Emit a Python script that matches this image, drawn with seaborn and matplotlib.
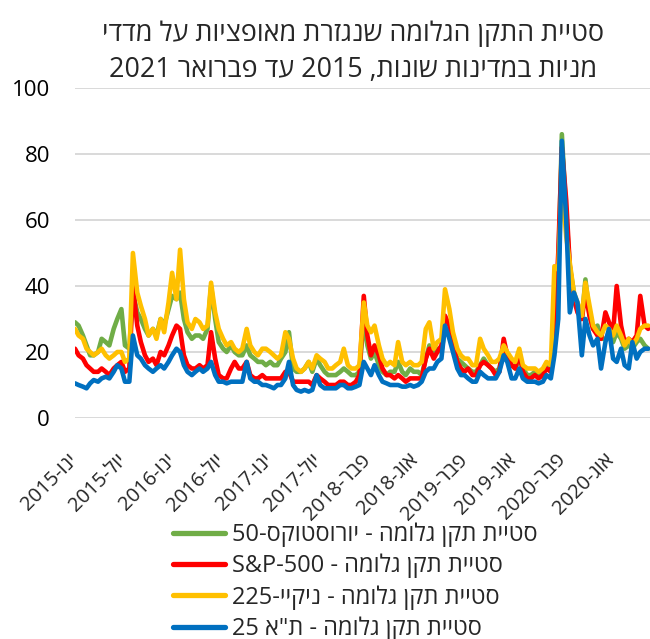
import re
import numpy as np
import pandas as pd
import matplotlib
matplotlib.use("Agg")
import matplotlib.pyplot as plt
import seaborn as sns

# ---------------- data (semi-monthly readings) ----------------
dates = pd.date_range("2015-01-01", periods=148, freq="SMS")

eurostoxx = [29, 28, 25, 22, 19, 19, 20, 24, 23, 22, 27, 30, 33, 22, 21, 38, 32, 30, 27, 25, 27, 25, 30, 28,
             33, 37, 36, 38, 30, 26, 24, 25, 25, 24, 27, 40, 30, 23, 21, 20, 22, 20, 19, 19, 22, 19, 18, 17,
             17, 16, 17, 16, 16, 18, 20, 26, 15, 14, 14, 15, 17, 14, 18, 16, 14, 13, 13, 13, 14, 15, 14, 13,
             13, 14, 30, 22, 18, 20, 16, 14, 13, 14, 14, 17, 14, 13, 15, 14, 14, 13, 18, 22, 19, 21, 20, 27,
             26, 22, 18, 17, 16, 15, 14, 14, 16, 18, 16, 15, 14, 15, 21, 19, 16, 15, 18, 15, 13, 13, 14, 13,
             14, 16, 15, 22, 45, 86, 62, 46, 38, 33, 30, 42, 31, 27, 28, 24, 24, 25, 23, 26, 24, 21, 22, 21,
             23, 24, 22, 21]

sp500 = [21, 19, 18, 16, 15, 14, 14, 15, 14, 13, 15, 16, 17, 14, 15, 40, 28, 23, 19, 17, 18, 16, 20, 19,
         22, 25, 28, 27, 19, 16, 15, 15, 16, 15, 16, 26, 18, 13, 12, 12, 15, 17, 15, 15, 17, 13, 12, 12,
         13, 12, 12, 12, 12, 12, 14, 14, 11, 11, 11, 11, 11, 10, 13, 12, 11, 10, 10, 10, 11, 11, 10, 10,
         11, 13, 37, 25, 19, 22, 19, 15, 13, 13, 12, 13, 12, 11, 12, 12, 12, 12, 18, 21, 18, 20, 22, 31,
         28, 22, 17, 15, 14, 15, 13, 13, 16, 17, 16, 15, 13, 14, 24, 19, 16, 15, 20, 14, 12, 12, 13, 12,
         13, 15, 14, 25, 50, 82, 66, 46, 36, 32, 30, 38, 31, 27, 25, 24, 32, 29, 26, 40, 28, 23, 24, 23,
         25, 37, 28, 27]

nikkei = [27, 25, 24, 21, 20, 19, 20, 21, 19, 18, 19, 20, 20, 17, 18, 50, 38, 34, 30, 25, 27, 24, 30, 26,
          35, 44, 36, 51, 36, 29, 27, 30, 29, 27, 28, 41, 32, 27, 24, 22, 23, 21, 20, 21, 27, 22, 20, 19,
          21, 21, 20, 19, 18, 19, 26, 24, 18, 15, 14, 15, 17, 15, 19, 18, 17, 15, 15, 16, 17, 21, 16, 15,
          15, 16, 35, 28, 26, 28, 22, 18, 16, 17, 16, 23, 17, 16, 17, 16, 16, 17, 27, 29, 21, 23, 24, 39,
          33, 26, 21, 19, 18, 18, 16, 16, 24, 21, 19, 17, 17, 18, 22, 20, 18, 17, 21, 16, 15, 15, 15, 14,
          15, 17, 16, 46, 45, 72, 55, 47, 38, 35, 31, 41, 34, 28, 26, 25, 28, 27, 25, 28, 25, 22, 24, 22,
          24, 27, 28, 28]

ta25 = [10.5, 10, 9.5, 9, 10.5, 11.5, 11, 12, 12.5, 12, 14, 16, 15, 11, 11, 25, 19, 18, 16, 15, 14, 15, 16, 15,
        17, 19, 21, 20, 16, 14, 13, 14, 15, 14, 15, 17, 13, 11, 11, 10.5, 11, 11, 11, 11, 17, 12, 11, 11,
        10, 10, 9.5, 9, 10, 10, 12, 17, 10, 8.5, 8, 8.5, 8, 8.5, 13, 10, 9, 9, 9, 9, 10, 10, 9, 9,
        9.5, 10, 17, 15, 13, 16, 13, 11, 10.5, 10, 10, 10, 9.5, 9.5, 10, 9.5, 10, 11, 14, 15, 15, 17, 18, 28,
        24, 20, 15, 13, 13, 12, 11, 11, 14, 13, 12, 12, 12, 14, 19, 17, 12, 12, 15, 12, 11, 11, 11, 10.5,
        11, 13, 12, 19, 30, 84, 60, 32, 38, 35, 19, 30, 25, 22, 24, 15, 23, 27, 18, 17, 21, 16, 15, 23,
        18, 20, 21, 21]

series_names = [
    "סטיית תקן גלומה - יורוסטוקס-50",
    "סטיית תקן גלומה - S&P-500",
    "סטיית תקן גלומה - ניקיי-225",
    "סטיית תקן גלומה - ת\"א 25",
]
series_colors = ["#70AD47", "#FF0000", "#FFC000", "#0070C0"]

title_lines = ["סטיית התקן הגלומה שנגזרת מאופציות על מדדי",
               "מניות במדינות שונות, 2015 עד פברואר 2021"]

tick_dates = ["2015-01-01", "2015-07-10", "2016-01-16", "2016-07-24", "2017-01-30", "2017-08-08",
              "2018-02-14", "2018-08-23", "2019-03-01", "2019-09-08", "2020-03-16", "2020-09-22"]
tick_labels = ["ינו-2015", "יול-2015", "ינו-2016", "יול-2016", "ינו-2017", "יול-2017",
               "פבר-2018", "אוג-2018", "פבר-2019", "אוג-2019", "פבר-2020", "אוג-2020"]
y_ticks = [0, 20, 40, 60, 80, 100]

# ---------------- simple bidi to visual order ----------------
LTR_RUN = re.compile(r"[A-Za-z0-9&]+(?:[-.][A-Za-z0-9&]+)*")


def vis(s):
    parts, pos = [], 0
    for m in LTR_RUN.finditer(s):
        if m.start() > pos:
            parts.append(("r", s[pos:m.start()]))
        parts.append(("l", m.group()))
        pos = m.end()
    if pos < len(s):
        parts.append(("r", s[pos:]))
    return "".join(t if k == "l" else t[::-1] for k, t in reversed(parts))


# ---------------- build frame ----------------
frames = []
for name, vals in zip(series_names, [eurostoxx, sp500, nikkei, ta25]):
    frames.append(pd.DataFrame({"date": dates, "value": vals, "series": name}))
df = pd.concat(frames, ignore_index=True)

sns.set_style("white")
plt.rcParams["font.family"] = ["Open Sans", "DejaVu Sans"]

fig = plt.figure(figsize=(6.5, 6.39), dpi=100)
ax = fig.add_axes([75 / 650, 1 - 418 / 639, 575 / 650, 330 / 639])

sns.lineplot(data=df, x="date", y="value", hue="series", hue_order=series_names,
             palette=dict(zip(series_names, series_colors)), linewidth=3.3,
             ax=ax, legend=True, solid_capstyle="round", solid_joinstyle="round")

ax.set_ylim(0, 100)
ax.set_xlim(pd.Timestamp("2015-01-01"), pd.Timestamp("2021-02-22"))
ax.set_yticks(y_ticks)
ax.set_yticklabels([str(v) for v in y_ticks], fontsize=16, color="#000000")
ax.yaxis.grid(True, color="#D9D9D9", linewidth=1.4)
ax.set_axisbelow(True)
ax.xaxis.grid(False)
for sp in ax.spines.values():
    sp.set_visible(False)
ax.tick_params(axis="both", length=0)
ax.tick_params(axis="y", pad=18)
ax.set_xlabel("")
ax.set_ylabel("")

ax.set_xticks([pd.Timestamp(d) for d in tick_dates])
ax.set_xticklabels([vis(t) for t in tick_labels], rotation=45, ha="right",
                   rotation_mode="anchor", fontsize=14.5, va="center")
ax.tick_params(axis="x", pad=28)

handles, labels = ax.get_legend_handles_labels()
ax.legend(handles, [vis(l) for l in labels], loc="upper center",
          bbox_to_anchor=(0.487, -0.252), frameon=False, fontsize=17,
          handlelength=2.2, labelspacing=0.29, handletextpad=0.3)
for h in ax.get_legend().get_lines():
    h.set_linewidth(3.8)

fig.text(353 / 650, 1 - 52 / 639, "\n".join(vis(l) for l in title_lines),
         ha="center", va="center", fontsize=19.4, linespacing=1.35, multialignment="center")

fig.savefig("out.png", dpi=100)
